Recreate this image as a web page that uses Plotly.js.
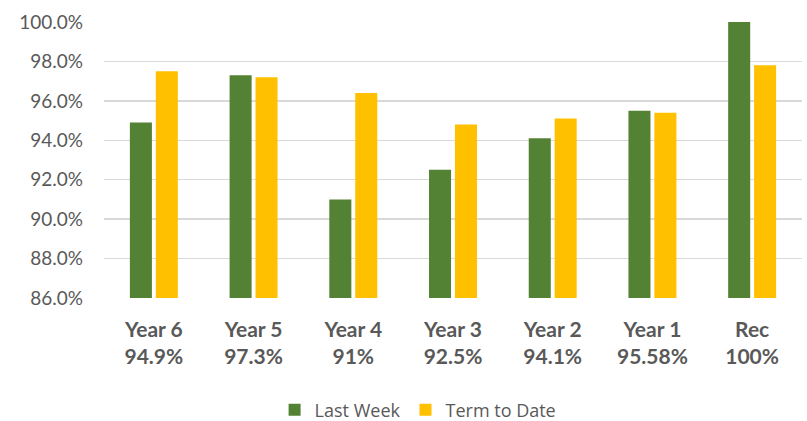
<!DOCTYPE html>
<html>
<head>
<meta charset="utf-8">
<script src="https://cdn.plot.ly/plotly-3.0.1.min.js"></script>
<style>html,body{margin:0;padding:0;background:#fff;}#chart{width:807px;height:421px;}</style>
</head>
<body>
<div id="chart"></div>
<script>
const categories = ["Year 6", "Year 5", "Year 4", "Year 3", "Year 2", "Year 1", "Rec"];
const categoryLabels = ["94.9%", "97.3%", "91%", "92.5%", "94.1%", "95.58%", "100%"];
const lastWeek = [94.9, 97.3, 91.0, 92.5, 94.1, 95.5, 100.0];
const termToDate = [97.5, 97.2, 96.4, 94.8, 95.1, 95.4, 97.8];
const yTicks = [86, 88, 90, 92, 94, 96, 98, 100];
const yTickLabels = ["86.0%", "88.0%", "90.0%", "92.0%", "94.0%", "96.0%", "98.0%", "100.0%"];

const tickText = categories.map((c, i) => '<b>' + c + '</b><br><b>' + categoryLabels[i] + '</b>');

const traces = [
  {type: 'bar', name: 'Last Week', x: categories, y: lastWeek, marker: {color: '#548235'}, hoverinfo: 'none'},
  {type: 'bar', name: 'Term to Date', x: categories, y: termToDate, marker: {color: '#FFC000'}, hoverinfo: 'none'}
];

const layout = {
  width: 807, height: 421,
  margin: {l: 104, r: 5, t: 22, b: 123, autoexpand: false},
  paper_bgcolor: '#ffffff', plot_bgcolor: '#ffffff',
  font: {family: 'Lato, "Open Sans", sans-serif', size: 19, color: '#595959'},
  barmode: 'group',
  bargap: 0.48,
  bargroupgap: 0.15,
  showlegend: true,
  legend: {orientation: 'h', x: 0.45, xanchor: 'center', y: -0.406, yanchor: 'middle',
           font: {family: '"Open Sans", sans-serif', size: 18, color: '#595959'}, itemwidth: 30, traceorder: 'normal'},
  xaxis: {
    type: 'category', automargin: false,
    tickvals: categories, ticktext: tickText,
    tickfont: {size: 21, color: '#595959'},
    showgrid: false, zeroline: false, showline: false,
    ticks: '', ticklabelstandoff: 17
  },
  yaxis: {
    range: [86, 100], automargin: false,
    tickvals: yTicks, ticktext: yTickLabels,
    tickfont: {size: 19, color: '#595959'},
    showgrid: true, gridcolor: '#d9d9d9', gridwidth: 1.5,
    zeroline: false, showline: false, ticks: '',
    ticklabelstandoff: 20
  }
};

Plotly.newPlot('chart', traces, layout, {staticPlot: true, displayModeBar: false});
</script>
</body>
</html>
